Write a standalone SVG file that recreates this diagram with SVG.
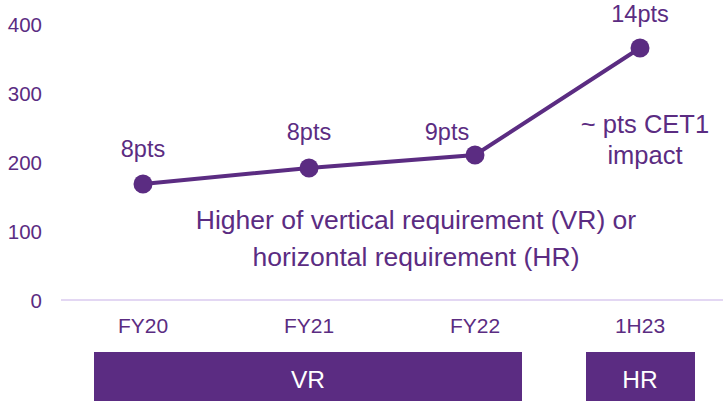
<svg xmlns="http://www.w3.org/2000/svg" width="723" height="401" viewBox="0 0 723 401">
<style>
text{font-family:"Liberation Sans",Arial,sans-serif;fill:#5B2C82}
.ax{font-size:20.5px;text-anchor:end}
.cat{font-size:21px;text-anchor:middle}
.pt{font-size:23.5px;text-anchor:middle}
.cet{font-size:25.5px;text-anchor:middle}
.note{font-size:26.5px;text-anchor:middle}
.bar{fill:#5B2C82}
.bt{font-size:24.5px;text-anchor:middle;fill:#fff}
.dot{fill:#5B2C82}
</style>
<rect width="723" height="401" fill="#fff"/>
<g id="axis">
<line x1="61" y1="300" x2="723" y2="300" stroke="#E3D7F3" stroke-width="2"/>
<text class="ax" x="42" y="32">400</text>
<text class="ax" x="42" y="101">300</text>
<text class="ax" x="42" y="170">200</text>
<text class="ax" x="42" y="239">100</text>
<text class="ax" x="42" y="308">0</text>
<text class="cat" x="143" y="333">FY20</text>
<text class="cat" x="309" y="333">FY21</text>
<text class="cat" x="475" y="333">FY22</text>
<text class="cat" x="640" y="333">1H23</text>
</g>
<g id="connectors">
<polyline points="143,184 309,168 475,155 640,48" fill="none" stroke="#5B2C82" stroke-width="4"/>
</g>
<g id="p1"><circle class="dot" cx="143" cy="184" r="9.5"/><text class="pt" x="143" y="157">8pts</text></g>
<g id="p2"><circle class="dot" cx="309" cy="168" r="9.5"/><text class="pt" x="309" y="140">8pts</text></g>
<g id="p3"><circle class="dot" cx="475" cy="155" r="9.5"/><text class="pt" x="447" y="140">9pts</text></g>
<g id="p4"><circle class="dot" cx="640" cy="48" r="9.5"/><text class="pt" x="640" y="22">14pts</text></g>
<g id="cet1"><text class="cet" x="645" y="133">~ pts CET1</text><text class="cet" x="645" y="164">impact</text></g>
<g id="desc"><text class="note" x="416" y="229">Higher of vertical requirement (VR) or</text><text class="note" x="416" y="266">horizontal requirement (HR)</text></g>
<g id="vr"><rect class="bar" x="94" y="352" width="428" height="49"/><text class="bt" x="308" y="388">VR</text></g>
<g id="hr"><rect class="bar" x="586" y="352" width="109" height="49"/><text class="bt" x="640" y="388">HR</text></g>
</svg>
